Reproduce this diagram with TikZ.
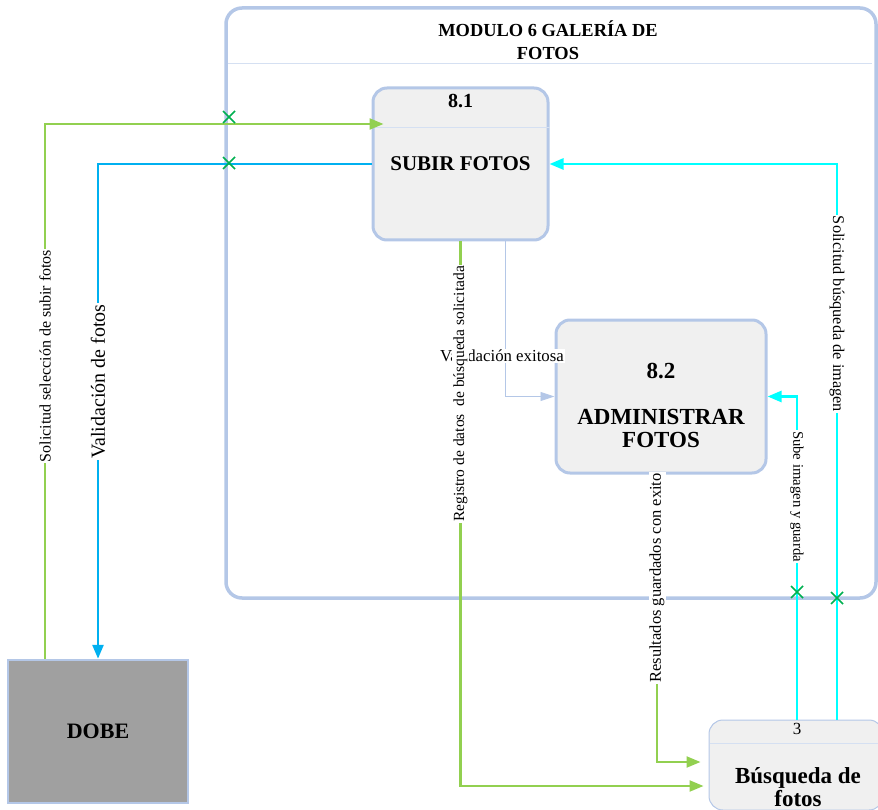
\documentclass[tikz,border=0pt]{standalone}
\usepackage{fontspec}
\setmainfont{Liberation Serif}
\usetikzlibrary{arrows.meta}
\definecolor{frameblue}{HTML}{B4C7E7}
\definecolor{divline}{HTML}{D5E0F2}
\definecolor{flowgreen}{HTML}{92D050}
\definecolor{flowblue}{HTML}{00B0F0}
\definecolor{flowcyan}{HTML}{00FFFF}
\definecolor{xgreen}{HTML}{00B050}
\definecolor{boxfill}{HTML}{F0F0F0}
\definecolor{dobefill}{HTML}{A0A0A0}
\tikzset{
  proc/.style={draw=frameblue, line width=3pt, fill=boxfill, rounded corners=14pt, inner sep=0pt},
  ext/.style={draw=frameblue, line width=2.5pt, fill=dobefill, inner sep=0pt},
  store/.style={draw=frameblue, line width=1pt, fill=boxfill, rounded corners=14pt, inner sep=0pt},
  ttl/.style={font=\fontsize{18.4}{23}\selectfont\bfseries, align=center},
  gflow/.style={draw=flowgreen, line width=2.2pt, -{Triangle[length=14pt,width=11pt]}},
  bflow/.style={draw=flowblue, line width=2.6pt, -{Triangle[length=14pt,width=11pt]}},
  cflow/.style={draw=flowcyan, line width=2.6pt, -{Triangle[length=14pt,width=11pt]}},
  lflow/.style={draw=frameblue, line width=0.9pt, -{Triangle[length=14pt,width=9pt]}},
  lbl/.style={fill=white, inner sep=1pt, font=\fontsize{15.5}{17}\selectfont},
  xmk/.style={draw=xgreen, line width=1.6pt},
}
\begin{document}
\begin{tikzpicture}[x=1pt,y=-1pt]
\useasboundingbox (0,0) rectangle (878,810);
% module frame
\draw[draw=frameblue, line width=3.5pt, rounded corners=16pt] (226,8) rectangle (876,598);
\draw[divline, line width=0.8pt] (228,63) -- (872,63);
\node[ttl] (title) at (548,40) {MODULO 6 GALERÍA DE\\FOTOS};
% processes
\node[proc, minimum width=175pt, minimum height=152pt] (n81) at (460.5,164) {};
\draw[divline, line width=0.8pt] ([yshift=-41pt]n81.north west) ++(2,0) -- ([yshift=-41pt]n81.north east);
\node[font=\fontsize{20}{22}\selectfont\bfseries] (n81id) at (460.5,101) {8.1};
\node[font=\fontsize{21}{23}\selectfont\bfseries] (n81t) at (460.5,164) {SUBIR FOTOS};
\node[proc, minimum width=210pt, minimum height=153pt] (n82) at (661,396.5) {};
\node[font=\fontsize{23}{23}\selectfont\bfseries] (n82id) at (661,371) {8.2};
\node[font=\fontsize{23}{23}\selectfont\bfseries, align=center] (n82t) at (661,428) {ADMINISTRAR\\FOTOS};
\node[ext, minimum width=180pt, minimum height=143pt] (dobe) at (98,731.5) {};
\node[font=\fontsize{22}{24}\selectfont\bfseries] (dobet) at (98,731.5) {DOBE};
\node[store, minimum width=174pt, minimum height=90pt] (bus) at (796,765) {};
\draw[divline, line width=0.8pt] (710,743) -- (878,743);
\node[font=\fontsize{17}{18}\selectfont] (busid) at (797,729) {3};
\node[font=\fontsize{23}{23}\selectfont\bfseries, align=center] (bust) at (798,787) {Búsqueda de\\fotos};
% flows
\draw[lflow] ([xshift=44.5pt]n81.south) |- (n82.west)
  node[lbl, pos=0.37, xshift=-3pt, font=\fontsize{16.8}{18}\selectfont] (lve) {Validación exitosa};
\draw[gflow] ([xshift=-53pt]dobe.north) |- ([yshift=40pt,xshift=12pt]n81.west)
  node[lbl, pos=0.283, rotate=90, font=\fontsize{16}{18}\selectfont] (lss) {Solicitud selección de subir fotos};
\draw[bflow] (n81.west) -| (dobe.north)
  node[lbl, pos=0.72, rotate=90, font=\fontsize{20}{22}\selectfont] (lvf) {Validación de fotos};
\draw[gflow] (n81.south) |- ([yshift=-21pt,xshift=-5pt]bus.west)
  node[lbl, pos=0.14, rotate=90] (lrd) {Registro de datos \ de búsqueda solicitada};
\draw[gflow] ([xshift=-4pt]n82.south) |- ([yshift=3pt,xshift=-8pt]bus.west)
  node[lbl, pos=0.18, rotate=90, font=\fontsize{16.5}{18}\selectfont] (lrg) {Resultados guardados con exito};
\draw[cflow] ([xshift=1pt]bus.north) |- (n82.east)
  node[lbl, pos=0.345, rotate=-90, font=\fontsize{14.7}{16}\selectfont] (lsi) {Sube imagen y guarda};
\draw[cflow] ([xshift=41pt]bus.north) |- (n81.east)
  node[lbl, pos=0.365, rotate=-90, font=\fontsize{16.3}{18}\selectfont] (lsb) {Solicitud búsqueda de imagen};
% crossing marks
\draw[xmk] (223,111) -- (235,123) (223,123) -- (235,111);
\draw[xmk] (223,157) -- (235,169) (223,169) -- (235,157);
\draw[xmk] (791,586) -- (803,598) (791,598) -- (803,586);
\draw[xmk] (831,592) -- (843,604) (831,604) -- (843,592);
\end{tikzpicture}
\end{document}
